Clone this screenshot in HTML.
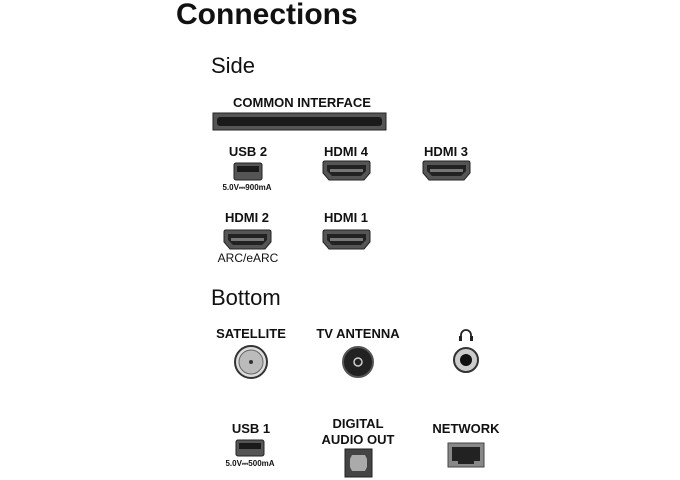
<!DOCTYPE html><html><head><style>
body{margin:0;width:680px;height:480px;background:#fff;position:relative;overflow:hidden;font-family:"Liberation Sans",sans-serif;color:#111}
.t{position:absolute;white-space:nowrap;transform:translateX(-50%);font-weight:bold;font-size:13px}
.s{position:absolute;white-space:nowrap;transform:translateX(-50%);font-weight:bold;font-size:8px}
.h{position:absolute}
</style></head><body>
<div style="position:absolute;left:176px;top:-2px;font-size:30px;font-weight:bold">Connections</div>
<div style="position:absolute;left:211px;top:53px;font-size:22px">Side</div>
<div style="position:absolute;left:211px;top:285px;font-size:22px">Bottom</div>
<div class="t" style="left:302px;top:95px">COMMON INTERFACE</div>
<div class="t" style="left:248px;top:144px">USB 2</div>
<div class="t" style="left:346px;top:144px">HDMI 4</div>
<div class="t" style="left:446px;top:144px">HDMI 3</div>
<div class="s" style="left:247px;top:183px">5.0V⎓900mA</div>
<div class="t" style="left:247px;top:210px">HDMI 2</div>
<div class="t" style="left:346px;top:210px">HDMI 1</div>
<div class="t" style="left:248px;top:251px;font-weight:normal;font-size:12px">ARC/eARC</div>
<div class="t" style="left:251px;top:326px">SATELLITE</div>
<div class="t" style="left:358px;top:326px">TV ANTENNA</div>
<div class="t" style="left:251px;top:421px">USB 1</div>
<div class="s" style="left:250px;top:459px">5.0V⎓500mA</div>
<div class="t" style="left:358px;top:416px">DIGITAL</div>
<div class="t" style="left:358px;top:432px">AUDIO OUT</div>
<div class="t" style="left:466px;top:421px">NETWORK</div>
<svg class="h" width="680" height="480" style="left:0;top:0">
<defs><g id="hd"><path d="M0,2 Q0,0 2,0 H45 Q47,0 47,2 V12 L41,19 H6 L0,12Z" fill="#555" stroke="#222"/><path d="M4,4 H43 V10 L38,15 H9 L4,10Z" fill="#222"/><rect x="7" y="8" width="33" height="3" fill="#777"/></g></defs>
<rect x="213" y="113" width="173" height="17" fill="#555" stroke="#222"/>
<rect x="217" y="117" width="165" height="9" rx="3" fill="#1a1a1a"/>
<rect x="234" y="163" width="28" height="17" rx="2" fill="#555" stroke="#222"/><rect x="237" y="166" width="22" height="6" fill="#1a1a1a"/>
<use href="#hd" x="323" y="161"/><use href="#hd" x="423" y="161"/><use href="#hd" x="224" y="230"/><use href="#hd" x="323" y="230"/>
<circle cx="251" cy="362" r="16" fill="#ddd" stroke="#333" stroke-width="2"/><circle cx="251" cy="362" r="12" fill="#bbb" stroke="#666"/><circle cx="251" cy="362" r="2" fill="#333"/>
<circle cx="358" cy="362" r="15" fill="#222" stroke="#555" stroke-width="2"/><circle cx="358" cy="362" r="4" fill="none" stroke="#ccc" stroke-width="1.5"/>
<circle cx="466" cy="360" r="12" fill="#ccc" stroke="#333" stroke-width="2"/><circle cx="466" cy="360" r="6" fill="#111"/>
<path d="M461,340 V335 A5,5 0 0 1 471,335 V340" fill="none" stroke="#222" stroke-width="1.8"/><rect x="459" y="336" width="3" height="5" fill="#222"/><rect x="470" y="336" width="3" height="5" fill="#222"/>
<rect x="236" y="440" width="28" height="16" rx="2" fill="#555" stroke="#222"/><rect x="239" y="443" width="22" height="6" fill="#1a1a1a"/>
<rect x="345" y="449" width="27" height="28" fill="#444" stroke="#222"/><path d="M352,455 H365 L367,459 V467 L365,471 H352 L350,467 V459Z" fill="#aaa"/>
<rect x="448" y="443" width="36" height="24" fill="#888" stroke="#444"/><path d="M452,447 H480 V461 H474 V464 H458 V461 H452Z" fill="#222"/>
</svg>
</body></html>
